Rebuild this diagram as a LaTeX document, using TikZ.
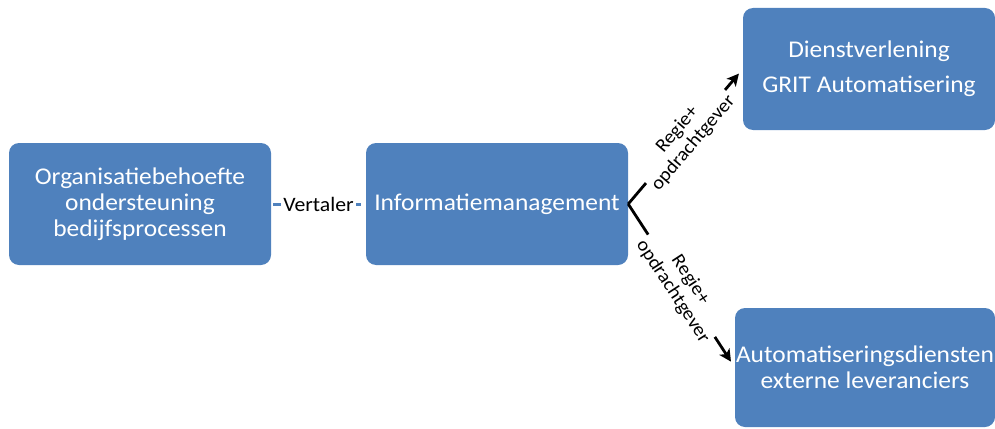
\documentclass[tikz,border=0pt]{standalone}
\usepackage{fontspec}
\setmainfont{Carlito}[FakeStretch=1.06]
\usetikzlibrary{arrows.meta}
\definecolor{boxblue}{HTML}{4F81BD}
\tikzset{
  bluebox/.style={rectangle, rounded corners=10pt, fill=boxblue, text=white,
    align=center, inner sep=0pt, font=\fontsize{24}{26}\selectfont},
  blackarrow/.style={line width=2.8pt, black, -{Stealth[length=12pt,width=12pt,inset=3pt]}},
  sidelabel/.style={midway, sloped, fill=white, text=black, align=center, inner sep=1.5pt,
    font=\fontsize{19}{21}\selectfont},
}
\begin{document}
\begin{tikzpicture}[x=1pt,y=-1pt]
\useasboundingbox (0,0) rectangle (995,428);
\node[bluebox, minimum width=262pt, minimum height=122pt] (org) at (140,204)
  {Organisatiebehoefte\\ondersteuning\\bedijfsprocessen};
\node[bluebox, minimum width=262pt, minimum height=122pt] (im) at (497,204)
  {Informatiemanagement};
\node[bluebox, minimum width=252pt, minimum height=122pt] (dv) at (869,69)
  {\rule{0pt}{4pt}Dienstverlening\\[9pt]GRIT Automatisering};
\node[bluebox, minimum width=260pt, minimum height=119pt] (au) at (865,367.5)
  {Automatiseringsdiensten\\externe leveranciers};
\draw[boxblue, line width=3pt, shorten <=2pt, shorten >=5pt] (org.east) -- (im.west)
  node[midway, fill=white, text=black, inner sep=2pt, font=\fontsize{20.5}{22}\selectfont] {Vertaler};
\draw[blackarrow, shorten >=6pt] (im.east) -- (dv.west)
  node[sidelabel] {Regie+\\opdrachtgever};
\draw[blackarrow, shorten >=7pt] (im.east) -- (au.west)
  node[sidelabel] {Regie+\\opdrachtgever};
\end{tikzpicture}
\end{document}
